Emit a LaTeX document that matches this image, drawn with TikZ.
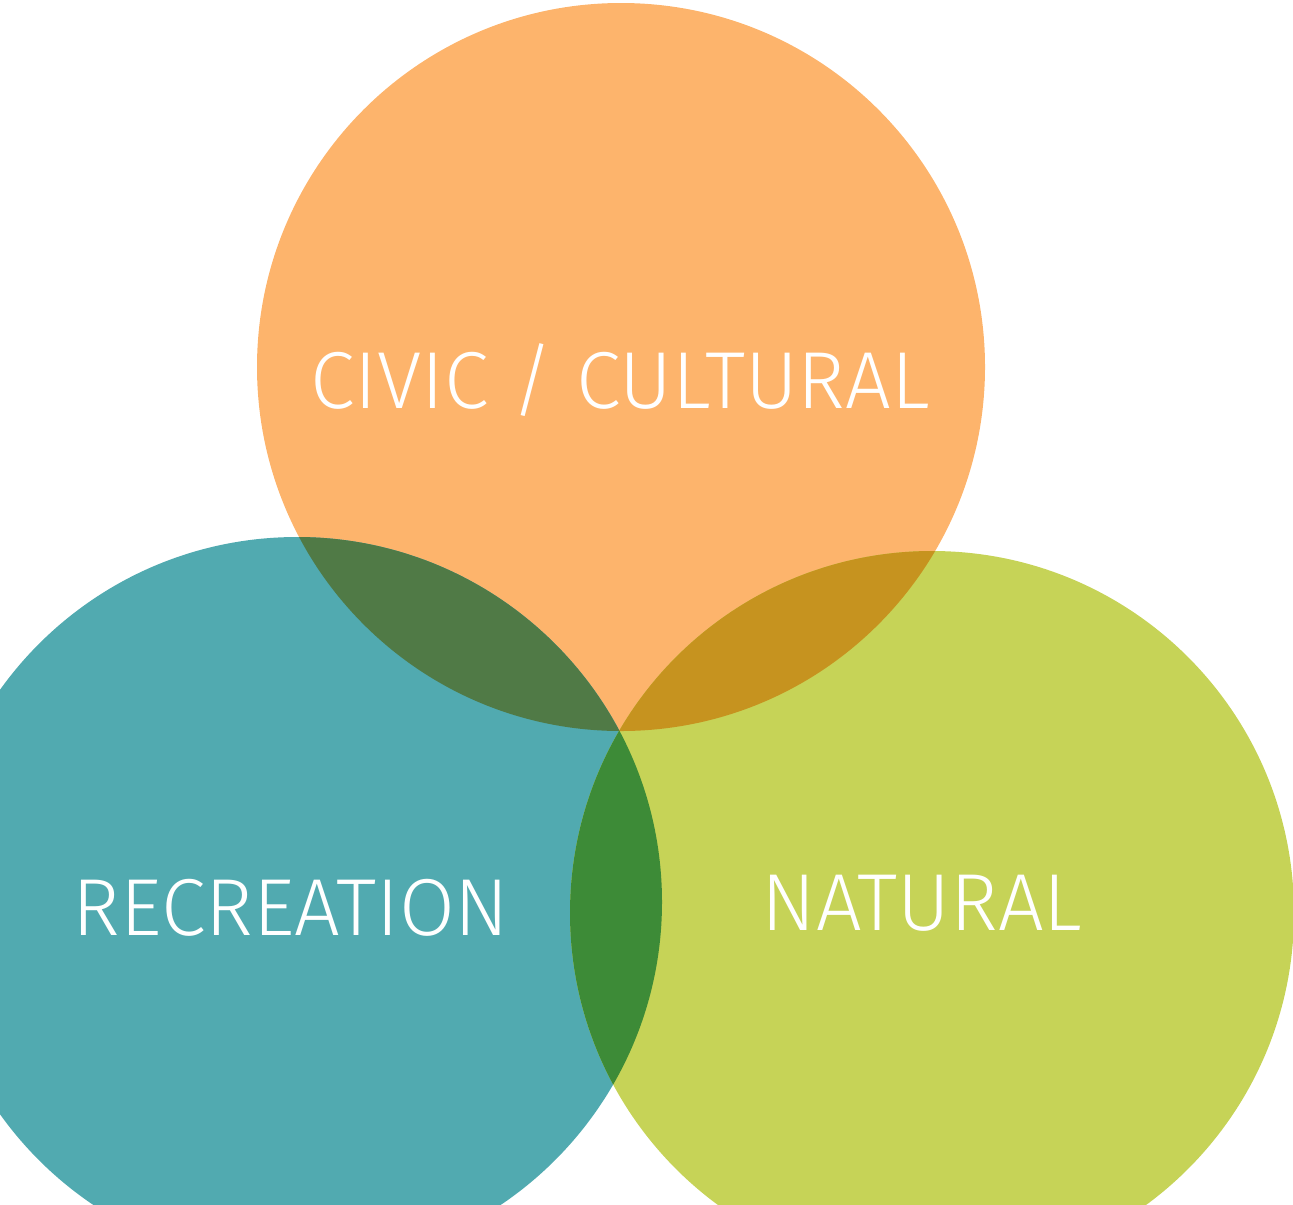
\documentclass[tikz,border=0pt]{standalone}
\usepackage{fontspec}
\setmainfont{Fira Sans Light}
\definecolor{civicorange}{HTML}{FDB46C}
\definecolor{recteal}{HTML}{51AAB0}
\definecolor{natlime}{HTML}{C6D357}
\definecolor{civicrec}{HTML}{507A46}
\definecolor{civicnat}{HTML}{C6931F}
\definecolor{recnat}{HTML}{3D8B37}
\tikzset{label text/.style={text=white,font=\fontsize{46}{46}\selectfont,anchor=base,inner sep=0pt}}
\begin{document}
\begin{tikzpicture}[x=0.02cm,y=-0.02cm]
	\useasboundingbox (0,0) rectangle (1293,1204);
	\clip (0,0) rectangle (1293,1204);
	\fill [civicorange] (621,367) circle (364);
	\fill [recteal] (297,902) circle (365);
	\fill [natlime] (932,913) circle (362);
	% overlaps
	\begin{scope}
		\clip (621,367) circle (364);
		\fill [civicrec] (297,902) circle (365);
		\fill [civicnat] (932,913) circle (362);
	\end{scope}
	\begin{scope}
		\clip (297,902) circle (365);
		\fill [recnat] (932,913) circle (362);
	\end{scope}
	\node [label text] (civic) at (620,408) {CIVIC / CULTURAL};
	\node [label text] (recreation) at (291,935) {RECREATION};
	\node [label text] (natural) at (922,930) {NATURAL};
\end{tikzpicture}
\end{document}
